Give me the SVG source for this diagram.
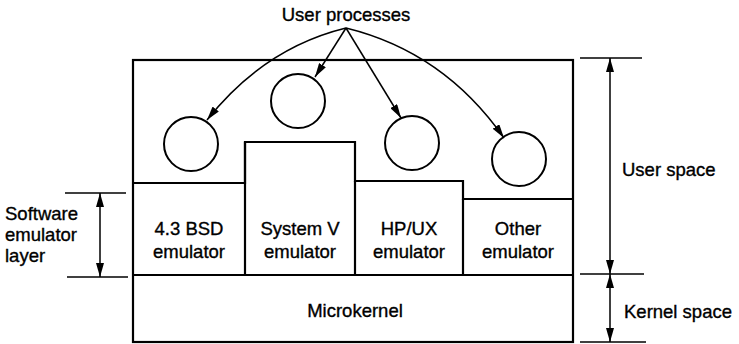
<svg xmlns="http://www.w3.org/2000/svg" width="739" height="344" viewBox="0 0 739 344">
<style>
text{font-family:"Liberation Sans",Arial,sans-serif;font-size:18.5px;fill:#000;stroke:#000;stroke-width:0.35}
.c{text-anchor:middle}
.box{fill:none;stroke:#000;stroke-width:2.2}
.ln{fill:none;stroke:#000;stroke-width:1.5}
.circ{fill:#fff;stroke:#000;stroke-width:2}
</style>
<defs>
<marker id="ah" viewBox="0 0 14 8" refX="14" refY="4" markerWidth="14" markerHeight="8" markerUnits="userSpaceOnUse" orient="auto-start-reverse">
<path d="M0,0 L14,4 L0,8 Z" fill="#000"/>
</marker>
</defs>
<g id="frame">
<rect class="box" x="133" y="60" width="440" height="282"/>
<path class="box" d="M133,183 H245 V142 H355 V181 H463 V199 H573"/>
<line class="box" x1="133" y1="275" x2="573" y2="275"/>
</g>
<g id="bsd">
<line class="box" x1="245" y1="142" x2="245" y2="275"/>
<text class="c" x="189" y="235">4.3 BSD</text>
<text class="c" x="189" y="258">emulator</text>
</g>
<g id="sysv">
<text class="c" x="300" y="235">System V</text>
<text class="c" x="300" y="258">emulator</text>
</g>
<g id="hpux">
<line class="box" x1="355" y1="181" x2="355" y2="275"/>
<line class="box" x1="463" y1="199" x2="463" y2="275"/>
<text class="c" x="409" y="235">HP/UX</text>
<text class="c" x="409" y="258">emulator</text>
</g>
<g id="other">
<text class="c" x="518" y="235">Other</text>
<text class="c" x="518" y="258">emulator</text>
</g>
<g id="microkernel">
<text class="c" x="355" y="317">Microkernel</text>
</g>
<g id="proc1"><circle class="circ" cx="191" cy="144" r="27"/></g>
<g id="proc2"><circle class="circ" cx="298" cy="101" r="27"/></g>
<g id="proc3"><circle class="circ" cx="412" cy="143" r="27"/></g>
<g id="proc4"><circle class="circ" cx="519" cy="159" r="27"/></g>
<g id="userproc">
<text class="c" x="346" y="21">User processes</text>
</g>
<g id="connectors">
<path class="ln" d="M346,28 Q264,48 207,120" marker-end="url(#ah)"/>
<line class="ln" x1="346" y1="28" x2="315" y2="77" marker-end="url(#ah)"/>
<line class="ln" x1="346" y1="28" x2="401" y2="118" marker-end="url(#ah)"/>
<path class="ln" d="M346,28 Q444,52 504,138" marker-end="url(#ah)"/>
<line class="ln" x1="580" y1="58" x2="642" y2="58"/>
<line class="ln" x1="580" y1="274" x2="644" y2="274"/>
<line class="ln" x1="580" y1="342" x2="646" y2="342"/>
<line class="ln" x1="610" y1="58" x2="610" y2="274" marker-start="url(#ah)" marker-end="url(#ah)"/>
<line class="ln" x1="610" y1="274" x2="610" y2="342" marker-start="url(#ah)" marker-end="url(#ah)"/>
<line class="ln" x1="65" y1="193" x2="126" y2="193"/>
<line class="ln" x1="67" y1="277" x2="128" y2="277"/>
<line class="ln" x1="100" y1="193" x2="100" y2="277" marker-start="url(#ah)" marker-end="url(#ah)"/>
</g>
<g id="labels">
<text x="622" y="176">User space</text>
<text x="624" y="318">Kernel space</text>
<text x="5" y="220">Software</text>
<text x="5" y="241">emulator</text>
<text x="5" y="262">layer</text>
</g>
</svg>
